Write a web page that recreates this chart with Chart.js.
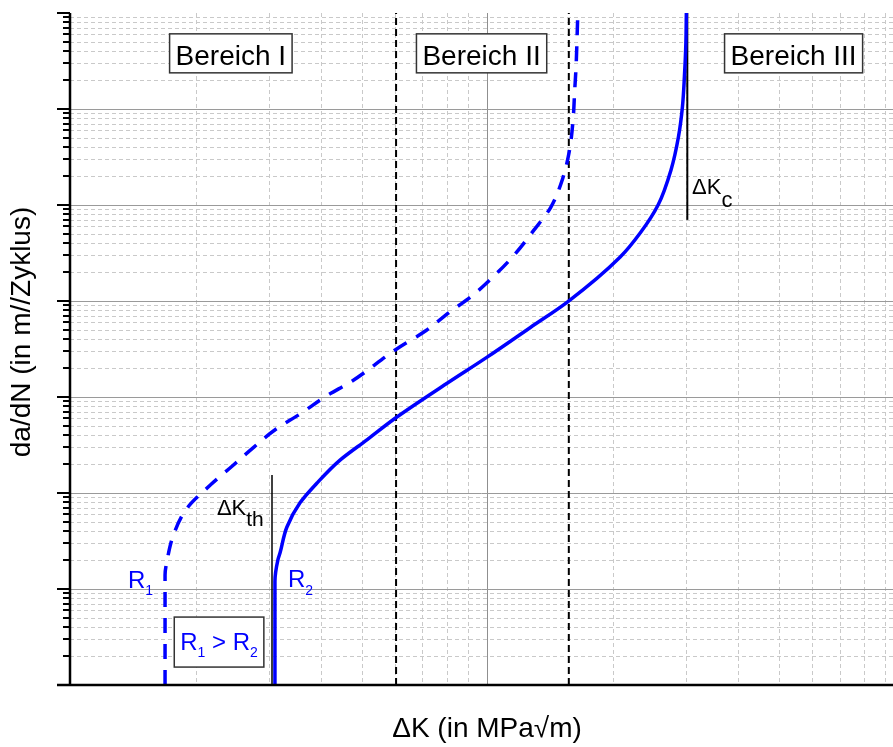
<!DOCTYPE html>
<html>
<head>
<meta charset="utf-8">
<script src="https://cdn.jsdelivr.net/npm/chart.js@4"></script>
<style>
  html, body { margin: 0; padding: 0; background: #fff; }
</style>
</head>
<body>
<canvas id="chart" width="893" height="747"></canvas>
<script>
// values (ΔK in MPa√m, da/dN in m/Zyklus)
const r1DeltaK = [1.69, 1.69, 1.71, 1.77, 1.91, 2.17, 2.45, 2.76, 3.12, 3.56, 4.11, 4.75, 6.02, 7.14, 8.11, 9.20, 10.3, 11.5, 12.96, 14.2, 15.18, 15.77, 16.08, 16.21, 16.35, 16.44, 16.5];
const r1Rate = [1e-10, 1.4e-9, 2.0e-9, 3.65e-9, 6.98e-9, 1.21e-8, 1.91e-8, 3.01e-8, 4.64e-8, 6.65e-8, 1.02e-7, 1.47e-7, 3.09e-7, 4.93e-7, 7.59e-7, 1.13e-6, 1.76e-6, 2.87e-6, 5.5e-6, 9.4e-6, 1.89e-5, 3.78e-5, 7.87e-5, 1.5e-4, 2.91e-4, 5.97e-4, 1e-3];

const r2DeltaK = [3.10, 3.10, 3.15, 3.19, 3.31, 3.56, 3.91, 4.44, 5.16, 6.02, 8.0, 10.0, 12.7, 15.6, 20.85, 23.28, 25.7, 27.6, 28.76, 29.4, 29.72, 29.96, 30.04];
const r2Rate = [1e-10, 1.2e-9, 2.0e-9, 2.4e-9, 4.4e-9, 7.9e-9, 1.27e-8, 2.2e-8, 3.6e-8, 6.0e-8, 1.38e-7, 2.6e-7, 5.3e-7, 9.8e-7, 2.87e-6, 5.1e-6, 1.0e-5, 2.32e-5, 5.14e-5, 1.06e-4, 2.17e-4, 4.83e-4, 1e-3];

const regionBounds = [6.05, 15.7];
const thresholdK = 3.05, thresholdTop = 1.54e-8;
const criticalK = 30.2, criticalBottom = 7e-6;

const kRange = [1, 94];
const rateRange = [1e-10, 1e-3];

const BLUE = '#0000ff';
const FONT = '"Liberation Sans", Arial, sans-serif';

// text placed in data coordinates
const boxedLabels = [
  { parts: [{ text: 'Bereich I', size: 28 }], k: 2.43, rate: 3.8e-4, h: 39, base: 11.5, color: '#000' },
  { parts: [{ text: 'Bereich II', size: 28 }], k: 9.7, rate: 3.8e-4, h: 39, base: 11.5, color: '#000' },
  { parts: [{ text: 'Bereich III', size: 28 }], k: 54.3, rate: 3.8e-4, h: 39, base: 11.5, color: '#000' },
  { parts: [{ text: 'R', size: 24 }, { text: '1', size: 14, dy: 7 }, { text: ' > R', size: 24 }, { text: '2', size: 14, dy: 7 }],
    k: 2.277, rate: 2.8e-10, h: 50, base: 8, color: BLUE }
];
const freeLabels = [
  { parts: [{ text: 'R', size: 24 }, { text: '1', size: 14, dy: 7 }], k: 1.377, rate: 1.02e-9, color: BLUE },
  { parts: [{ text: 'R', size: 24 }, { text: '2', size: 14, dy: 8 }], k: 3.33, rate: 1.05e-9, color: BLUE },
  { parts: [{ text: 'ΔK', size: 22 }, { text: 'th', size: 21, dy: 11 }], k: 2.25, rate: 5.9e-9, color: '#000' },
  { parts: [{ text: 'ΔK', size: 22 }, { text: 'c', size: 22, dy: 13 }], k: 31.0, rate: 1.3e-5, color: '#000' }
];

const pts = (xs, ys) => xs.map((x, i) => ({ x, y: ys[i] }));

function logSteps(scale) {
  const out = [];
  const e0 = Math.floor(Math.log10(scale.min)), e1 = Math.ceil(Math.log10(scale.max));
  for (let e = e0; e <= e1; e++) {
    for (let k = 1; k <= 9; k++) {
      const v = k * Math.pow(10, e);
      if (v < scale.min * 0.9999 || v > scale.max * 1.0001) continue;
      out.push({ v, major: k === 1 });
    }
  }
  return out;
}

function partsWidth(ctx, parts) {
  let w = 0;
  parts.forEach(p => { ctx.font = p.size + 'px ' + FONT; w += ctx.measureText(p.text).width; });
  return w;
}

function drawParts(ctx, x, y, parts) {
  let cx = x;
  parts.forEach(p => {
    ctx.font = p.size + 'px ' + FONT;
    ctx.fillText(p.text, cx, y + (p.dy || 0));
    cx += ctx.measureText(p.text).width;
  });
}

const paperPlugin = {
  id: 'paper',
  beforeDatasetsDraw(chart) {
    const { ctx, chartArea: a, scales: { x, y } } = chart;
    ctx.save();
    ctx.lineWidth = 1;
    // minor grid, dashed
    ctx.setLineDash([4, 3]);
    ctx.strokeStyle = '#c9c9c9';
    logSteps(x).forEach(s => {
      const px = Math.round(x.getPixelForValue(s.v)) + 0.5;
      if (s.major || px <= a.left + 1 || px >= a.right - 1) return;
      ctx.beginPath(); ctx.moveTo(px, a.top); ctx.lineTo(px, a.bottom); ctx.stroke();
    });
    logSteps(y).forEach(s => {
      const py = Math.round(y.getPixelForValue(s.v)) + 0.5;
      if (s.major || py <= a.top + 1 || py >= a.bottom - 1) return;
      ctx.beginPath(); ctx.moveTo(a.left, py); ctx.lineTo(a.right, py); ctx.stroke();
    });
    // major grid, solid
    ctx.setLineDash([]);
    ctx.strokeStyle = '#8f8f8f';
    logSteps(x).forEach(s => {
      const px = Math.round(x.getPixelForValue(s.v)) + 0.5;
      if (!s.major || px <= a.left + 1 || px >= a.right - 1) return;
      ctx.beginPath(); ctx.moveTo(px, a.top); ctx.lineTo(px, a.bottom); ctx.stroke();
    });
    ctx.strokeStyle = '#9a9a9a';
    logSteps(y).forEach(s => {
      const py = Math.round(y.getPixelForValue(s.v)) + 0.5;
      if (!s.major || py <= a.top + 1 || py >= a.bottom - 1) return;
      ctx.beginPath(); ctx.moveTo(a.left, py); ctx.lineTo(a.right, py); ctx.stroke();
    });
    ctx.restore();
  },
  afterDatasetsDraw(chart) {
    const { ctx, chartArea: a, scales: { x, y } } = chart;
    ctx.save();
    // axes
    ctx.strokeStyle = '#000';
    ctx.lineWidth = 2.5;
    ctx.beginPath(); ctx.moveTo(a.left, a.top); ctx.lineTo(a.left, a.bottom); ctx.stroke();
    ctx.beginPath(); ctx.moveTo(a.left - 13, a.bottom); ctx.lineTo(a.right, a.bottom); ctx.stroke();
    ctx.lineWidth = 2;
    logSteps(y).forEach(s => {
      const py = Math.round(y.getPixelForValue(s.v));
      ctx.beginPath(); ctx.moveTo(a.left - (s.major ? 13 : 7), py); ctx.lineTo(a.left, py); ctx.stroke();
    });

    // boxed labels
    ctx.textBaseline = 'alphabetic';
    ctx.textAlign = 'left';
    boxedLabels.forEach(l => {
      const cx = x.getPixelForValue(l.k), cy = y.getPixelForValue(l.rate);
      const w = partsWidth(ctx, l.parts) + 12;
      ctx.fillStyle = '#fff';
      ctx.fillRect(cx - w / 2, cy - l.h / 2, w, l.h);
      ctx.strokeStyle = '#333';
      ctx.lineWidth = 1.5;
      ctx.strokeRect(cx - w / 2, cy - l.h / 2, w, l.h);
      ctx.fillStyle = l.color;
      drawParts(ctx, cx - w / 2 + 6, cy + l.base, l.parts);
    });
    freeLabels.forEach(l => {
      ctx.fillStyle = l.color;
      drawParts(ctx, x.getPixelForValue(l.k), y.getPixelForValue(l.rate), l.parts);
    });

    // axis titles
    ctx.fillStyle = '#000';
    ctx.textAlign = 'center';
    ctx.textBaseline = 'middle';
    ctx.font = '28px ' + FONT;
    ctx.fillText('ΔK (in MPa√m)', 487, 729);
    ctx.translate(22, 332);
    ctx.rotate(-Math.PI / 2);
    ctx.fillText('da/dN (in m//Zyklus)', 0, 0);
    ctx.restore();
  }
};

// curves rise monotonically in da/dN, so index them along y for a smooth monotone spline
new Chart(document.getElementById('chart'), {
  type: 'line',
  data: {
    datasets: [
      {
        label: 'R1',
        data: pts(r1DeltaK, r1Rate),
        borderColor: BLUE, borderWidth: 3.5, borderDash: [15, 11],
        pointRadius: 0, cubicInterpolationMode: 'monotone'
      },
      {
        label: 'R2',
        data: pts(r2DeltaK, r2Rate),
        borderColor: BLUE, borderWidth: 3.5,
        pointRadius: 0, cubicInterpolationMode: 'monotone'
      },
      {
        label: 'ΔKth',
        data: pts([thresholdK, thresholdK], [rateRange[0], thresholdTop]),
        borderColor: '#000', borderWidth: 1.5, pointRadius: 0
      },
      {
        label: 'ΔKc',
        data: pts([criticalK, criticalK], [criticalBottom, rateRange[1]]),
        borderColor: '#000', borderWidth: 2, pointRadius: 0
      },
      ...regionBounds.map(b => ({
        label: 'Grenze',
        data: pts([b, b], rateRange),
        borderColor: '#000', borderWidth: 2, borderDash: [7, 4], pointRadius: 0
      }))
    ]
  },
  options: {
    indexAxis: 'y',
    responsive: false,
    animation: false,
    layout: { padding: { top: 13, left: 0, right: 0, bottom: 0 } },
    plugins: { legend: { display: false }, tooltip: { enabled: false } },
    scales: {
      x: {
        type: 'logarithmic', min: kRange[0], max: kRange[1],
        grid: { display: false }, border: { display: false }, ticks: { display: false },
        afterFit: s => { s.height = 62; }
      },
      y: {
        type: 'logarithmic', min: rateRange[0], max: rateRange[1],
        grid: { display: false }, border: { display: false }, ticks: { display: false },
        afterFit: s => { s.width = 70; }
      }
    }
  },
  plugins: [paperPlugin]
});
</script>
</body>
</html>
